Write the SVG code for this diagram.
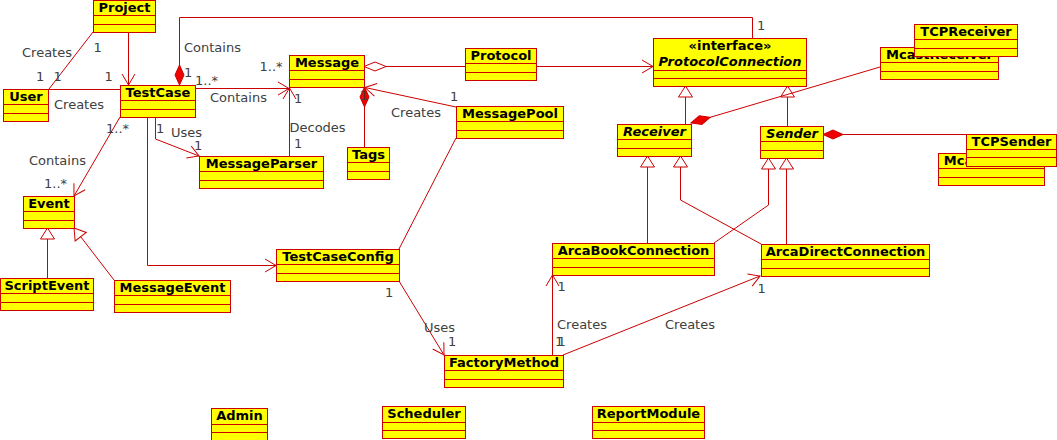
<svg xmlns="http://www.w3.org/2000/svg" width="1057" height="440" viewBox="0 0 1057 440">
<style>
.box{fill:#ffff00;stroke:#cc0000;stroke-width:1}
.sep{stroke:#cc0000;stroke-width:1}
.name{font-family:"DejaVu Sans","Liberation Sans",sans-serif;font-size:13px;font-weight:bold;fill:#000;text-anchor:middle}
.it{font-style:italic}
.ln{fill:none;stroke:#cc0000;stroke-width:1}
.lbl{font-family:"DejaVu Sans","Liberation Sans",sans-serif;font-size:13px;fill:#404040}
</style>
<defs>
<marker id="arrow" markerUnits="userSpaceOnUse" markerWidth="13" markerHeight="15" refX="11" refY="6.5" orient="auto" overflow="visible"><path d="M0,0 L11,6.5 L0,13" fill="none" stroke="#cc0000" stroke-width="1"/></marker>
<marker id="tri" markerUnits="userSpaceOnUse" markerWidth="13" markerHeight="16" refX="11" refY="7" orient="auto" overflow="visible"><path d="M0,0 L11,7 L0,14 Z" fill="#ffffff" stroke="#cc0000" stroke-width="1"/></marker>
<marker id="dia" markerUnits="userSpaceOnUse" markerWidth="22" markerHeight="10" refX="0" refY="4.5" orient="auto" overflow="visible"><path d="M0,4.5 L10,0 L20,4.5 L10,9 Z" fill="#ee0000" stroke="#cc0000" stroke-width="1"/></marker>
<marker id="hdia" markerUnits="userSpaceOnUse" markerWidth="24" markerHeight="10" refX="0" refY="4.5" orient="auto" overflow="visible"><path d="M0,4.5 L11,0 L22,4.5 L11,9 Z" fill="#ffffff" stroke="#cc0000" stroke-width="1"/></marker>
</defs>
<rect width="1057" height="440" fill="#ffffff"/>

<g id="connectors">
<path class="ln" d="M128.5,32 V85" marker-end="url(#arrow)"/>
<path class="ln" d="M93,32 L49,89"/>
<path class="ln" d="M49,89.5 H120"/>
<path class="ln" d="M179.5,85 V17.5 H752.5 V38" marker-start="url(#dia)"/>
<path class="ln" d="M195,88.5 H289" marker-end="url(#arrow)"/>
<path class="ln" d="M289.5,156 V88" marker-end="url(#arrow)"/>
<path class="ln" d="M155.5,117 V139 L199,156" marker-end="url(#arrow)"/>
<path class="ln" d="M120,117 L74,196" marker-end="url(#arrow)"/>
<path class="ln" d="M147.5,117 V265.5 H276" marker-end="url(#arrow)"/>
<path class="ln" d="M364,66.5 H465" marker-start="url(#hdia)"/>
<path class="ln" d="M536,66.5 H653" marker-end="url(#arrow)"/>
<path class="ln" d="M364.5,87 V147" marker-start="url(#dia)"/>
<path class="ln" d="M456,107 L365,87.5" marker-end="url(#arrow)"/>
<path class="ln" d="M456,138 L399,249"/>
<path class="ln" d="M399,281 L444,355" marker-end="url(#arrow)"/>
<path class="ln" d="M552.5,355 V275" marker-end="url(#arrow)"/>
<path class="ln" d="M563,355 L760,276" marker-end="url(#arrow)"/>
<path class="ln" d="M685.5,124 V86" marker-end="url(#tri)"/>
<path class="ln" d="M787.5,126 V86" marker-end="url(#tri)"/>
<path class="ln" d="M691,123 L880,67" marker-start="url(#dia)"/>
<path class="ln" d="M823,134.5 H966" marker-start="url(#dia)"/>
<path class="ln" d="M647.5,243 V156" marker-end="url(#tri)"/>
<path class="ln" d="M761,244 L680.5,200 V156" marker-end="url(#tri)"/>
<path class="ln" d="M714,243 L768.5,205 V158" marker-end="url(#tri)"/>
<path class="ln" d="M786.5,244 V158" marker-end="url(#tri)"/>
<path class="ln" d="M47.5,278 V228" marker-end="url(#tri)"/>
<path class="ln" d="M114,280 L74,228" marker-end="url(#tri)"/>
</g>

<g id="Project"><rect class="box" x="93.5" y="0.5" width="62" height="32"/><line class="sep" x1="93.5" y1="15.5" x2="155.5" y2="15.5"/><line class="sep" x1="93.5" y1="24.5" x2="155.5" y2="24.5"/><text class="name" x="124.5" y="12">Project</text></g>
<g id="User"><rect class="box" x="3.5" y="89.5" width="45" height="32"/><line class="sep" x1="3.5" y1="104.5" x2="48.5" y2="104.5"/><line class="sep" x1="3.5" y1="113.5" x2="48.5" y2="113.5"/><text class="name" x="26" y="101">User</text></g>
<g id="TestCase"><rect class="box" x="120.5" y="85.5" width="75" height="32"/><line class="sep" x1="120.5" y1="100.5" x2="195.5" y2="100.5"/><line class="sep" x1="120.5" y1="109.5" x2="195.5" y2="109.5"/><text class="name" x="158" y="97">TestCase</text></g>
<g id="Message"><rect class="box" x="289.5" y="55.5" width="75" height="32"/><line class="sep" x1="289.5" y1="70.5" x2="364.5" y2="70.5"/><line class="sep" x1="289.5" y1="79.5" x2="364.5" y2="79.5"/><text class="name" x="327" y="67">Message</text></g>
<g id="Protocol"><rect class="box" x="465.5" y="48.5" width="71" height="32"/><line class="sep" x1="465.5" y1="63.5" x2="536.5" y2="63.5"/><line class="sep" x1="465.5" y1="72.5" x2="536.5" y2="72.5"/><text class="name" x="501" y="60">Protocol</text></g>
<g id="MessagePool"><rect class="box" x="456.5" y="106.5" width="107" height="32"/><line class="sep" x1="456.5" y1="121.5" x2="563.5" y2="121.5"/><line class="sep" x1="456.5" y1="130.5" x2="563.5" y2="130.5"/><text class="name" x="510" y="118">MessagePool</text></g>
<g id="Tags"><rect class="box" x="347.5" y="147.5" width="42" height="32"/><line class="sep" x1="347.5" y1="162.5" x2="389.5" y2="162.5"/><line class="sep" x1="347.5" y1="171.5" x2="389.5" y2="171.5"/><text class="name" x="368.5" y="159">Tags</text></g>
<g id="MessageParser"><rect class="box" x="199.5" y="156.5" width="124" height="32"/><line class="sep" x1="199.5" y1="171.5" x2="323.5" y2="171.5"/><line class="sep" x1="199.5" y1="180.5" x2="323.5" y2="180.5"/><text class="name" x="261.5" y="168">MessageParser</text></g>
<g id="Event"><rect class="box" x="23.5" y="196.5" width="51" height="32"/><line class="sep" x1="23.5" y1="211.5" x2="74.5" y2="211.5"/><line class="sep" x1="23.5" y1="220.5" x2="74.5" y2="220.5"/><text class="name" x="49" y="208">Event</text></g>
<g id="ScriptEvent"><rect class="box" x="0.5" y="278.5" width="93" height="32"/><line class="sep" x1="0.5" y1="293.5" x2="93.5" y2="293.5"/><line class="sep" x1="0.5" y1="302.5" x2="93.5" y2="302.5"/><text class="name" x="47" y="290">ScriptEvent</text></g>
<g id="MessageEvent"><rect class="box" x="114.5" y="280.5" width="116" height="32"/><line class="sep" x1="114.5" y1="295.5" x2="230.5" y2="295.5"/><line class="sep" x1="114.5" y1="304.5" x2="230.5" y2="304.5"/><text class="name" x="172.5" y="292">MessageEvent</text></g>
<g id="TestCaseConfig"><rect class="box" x="276.5" y="249.5" width="123" height="32"/><line class="sep" x1="276.5" y1="264.5" x2="399.5" y2="264.5"/><line class="sep" x1="276.5" y1="273.5" x2="399.5" y2="273.5"/><text class="name" x="338" y="261">TestCaseConfig</text></g>
<g id="FactoryMethod"><rect class="box" x="444.5" y="355.5" width="119" height="32"/><line class="sep" x1="444.5" y1="370.5" x2="563.5" y2="370.5"/><line class="sep" x1="444.5" y1="379.5" x2="563.5" y2="379.5"/><text class="name" x="504" y="367">FactoryMethod</text></g>
<g id="ArcaBookConnection"><rect class="box" x="552.5" y="243.5" width="162" height="32"/><line class="sep" x1="552.5" y1="258.5" x2="714.5" y2="258.5"/><line class="sep" x1="552.5" y1="267.5" x2="714.5" y2="267.5"/><text class="name" x="633.5" y="255">ArcaBookConnection</text></g>
<g id="ArcaDirectConnection"><rect class="box" x="761.5" y="244.5" width="168" height="32"/><line class="sep" x1="761.5" y1="259.5" x2="929.5" y2="259.5"/><line class="sep" x1="761.5" y1="268.5" x2="929.5" y2="268.5"/><text class="name" x="845.5" y="256">ArcaDirectConnection</text></g>
<g id="ProtocolConnection"><rect class="box" x="653.5" y="38.5" width="153" height="48"/><line class="sep" x1="653.5" y1="70.5" x2="806.5" y2="70.5"/><line class="sep" x1="653.5" y1="78.5" x2="806.5" y2="78.5"/><text class="name" x="730" y="50">«interface»</text><text class="name it" x="730" y="66">ProtocolConnection</text></g>
<g id="Receiver"><rect class="box" x="617.5" y="124.5" width="74" height="32"/><line class="sep" x1="617.5" y1="139.5" x2="691.5" y2="139.5"/><line class="sep" x1="617.5" y1="148.5" x2="691.5" y2="148.5"/><text class="name it" x="654.5" y="136">Receiver</text></g>
<g id="Sender"><rect class="box" x="760.5" y="126.5" width="63" height="32"/><line class="sep" x1="760.5" y1="141.5" x2="823.5" y2="141.5"/><line class="sep" x1="760.5" y1="150.5" x2="823.5" y2="150.5"/><text class="name it" x="792" y="138">Sender</text></g>
<g id="McastReceiver"><rect class="box" x="880.5" y="47.5" width="118" height="32"/><line class="sep" x1="880.5" y1="62.5" x2="998.5" y2="62.5"/><line class="sep" x1="880.5" y1="71.5" x2="998.5" y2="71.5"/><text class="name" x="939.5" y="59">McastReceiver</text></g>
<g id="TCPReceiver"><rect class="box" x="914.5" y="24.5" width="103" height="32"/><line class="sep" x1="914.5" y1="39.5" x2="1017.5" y2="39.5"/><line class="sep" x1="914.5" y1="48.5" x2="1017.5" y2="48.5"/><text class="name" x="966" y="36">TCPReceiver</text></g>
<g id="McastSender"><rect class="box" x="938.5" y="153.5" width="106" height="32"/><line class="sep" x1="938.5" y1="168.5" x2="1044.5" y2="168.5"/><line class="sep" x1="938.5" y1="177.5" x2="1044.5" y2="177.5"/><text class="name" x="991.5" y="165">McastSender</text></g>
<g id="TCPSender"><rect class="box" x="966.5" y="134.5" width="90" height="32"/><line class="sep" x1="966.5" y1="149.5" x2="1056.5" y2="149.5"/><line class="sep" x1="966.5" y1="157.5" x2="1056.5" y2="157.5"/><text class="name" x="1011.5" y="146">TCPSender</text></g>
<g id="Admin"><rect class="box" x="211.5" y="408.5" width="56" height="32"/><line class="sep" x1="211.5" y1="424.5" x2="267.5" y2="424.5"/><line class="sep" x1="211.5" y1="432.5" x2="267.5" y2="432.5"/><text class="name" x="239.5" y="420">Admin</text></g>
<g id="Scheduler"><rect class="box" x="382.5" y="406.5" width="83" height="32"/><line class="sep" x1="382.5" y1="422.5" x2="465.5" y2="422.5"/><line class="sep" x1="382.5" y1="430.5" x2="465.5" y2="430.5"/><text class="name" x="424" y="418">Scheduler</text></g>
<g id="ReportModule"><rect class="box" x="592.5" y="406.5" width="112" height="32"/><line class="sep" x1="592.5" y1="422.5" x2="704.5" y2="422.5"/><line class="sep" x1="592.5" y1="430.5" x2="704.5" y2="430.5"/><text class="name" x="648.5" y="418">ReportModule</text></g>

<g id="labels">
<text class="lbl" x="22" y="57">Creates</text>
<text class="lbl" x="93.5" y="52">1</text>
<text class="lbl" x="36" y="81">1</text>
<text class="lbl" x="53.5" y="81">1</text>
<text class="lbl" x="104.5" y="81">1</text>
<text class="lbl" x="54" y="109">Creates</text>
<text class="lbl" x="184" y="52">Contains</text>
<text class="lbl" x="184" y="77">1</text>
<text class="lbl" x="757" y="30">1</text>
<text class="lbl" x="195" y="85">1..*</text>
<text class="lbl" x="259.5" y="71">1..*</text>
<text class="lbl" x="210" y="102">Contains</text>
<text class="lbl" x="294" y="103">1</text>
<text class="lbl" x="289.5" y="132">Decodes</text>
<text class="lbl" x="294" y="148">1</text>
<text class="lbl" x="156" y="133">1</text>
<text class="lbl" x="171" y="137">Uses</text>
<text class="lbl" x="194" y="150">1</text>
<text class="lbl" x="106" y="133">1..*</text>
<text class="lbl" x="29" y="165">Contains</text>
<text class="lbl" x="44" y="188">1..*</text>
<text class="lbl" x="450" y="101">1</text>
<text class="lbl" x="359.5" y="100">1</text>
<text class="lbl" x="391" y="117">Creates</text>
<text class="lbl" x="385" y="297">1</text>
<text class="lbl" x="424" y="332">Uses</text>
<text class="lbl" x="448" y="346">1</text>
<text class="lbl" x="557.5" y="291">1</text>
<text class="lbl" x="557" y="329">Creates</text>
<text class="lbl" x="555" y="346">1</text>
<text class="lbl" x="557.5" y="346">1</text>
<text class="lbl" x="665" y="329">Creates</text>
<text class="lbl" x="757.5" y="293">1</text>
</g>
</svg>
